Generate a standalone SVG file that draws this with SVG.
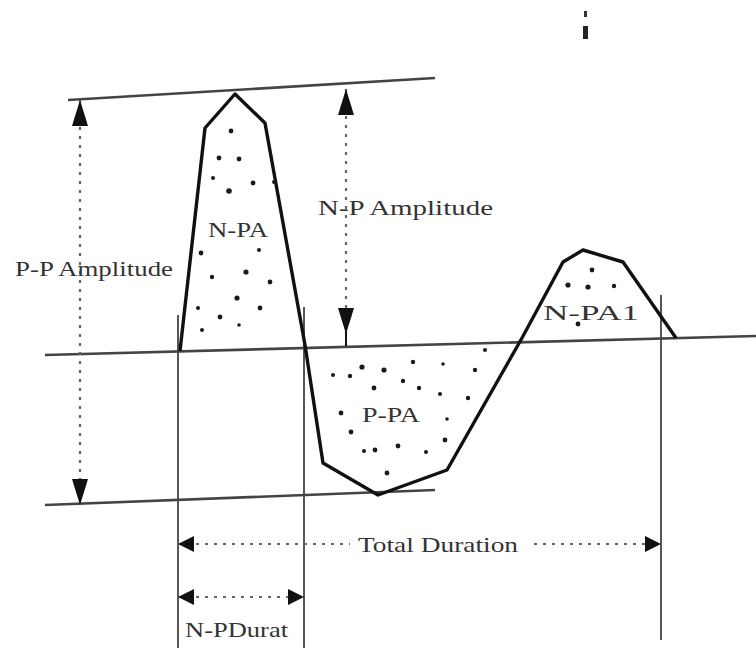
<svg xmlns="http://www.w3.org/2000/svg" width="756" height="657" viewBox="0 0 756 657">
<style>
.ref{stroke:#444;stroke-width:2.6;fill:none}
.vert{stroke:#444;stroke-width:1.8;fill:none}
.wave{stroke:#111;stroke-width:3.4;fill:none;stroke-linejoin:round}
.dim{stroke:#666;stroke-width:2.2;stroke-dasharray:3 6;fill:none}
.lbl{font-family:"Liberation Serif","Times New Roman",serif;font-size:21px;fill:#333}
.dot{fill:#1a1a1a}
</style>
<defs>
<marker id="ahV" markerUnits="userSpaceOnUse" markerWidth="28" markerHeight="16" refX="26" refY="8" orient="auto-start-reverse" viewBox="0 0 28 16">
<path d="M0,0 L26,8 L0,16 z" fill="#111"/>
</marker>
<marker id="ahH" markerUnits="userSpaceOnUse" markerWidth="17" markerHeight="16" refX="16" refY="8" orient="auto-start-reverse" viewBox="0 0 17 16">
<path d="M0,0 L16,8 L0,16 z" fill="#111"/>
</marker>
</defs>
<rect width="756" height="657" fill="#fff"/>
<g id="reference-lines">
<line class="ref" x1="68" y1="100" x2="435" y2="78"/>
<line class="ref" x1="45" y1="355" x2="756" y2="336"/>
<line class="ref" x1="45" y1="505" x2="435" y2="490"/>
<line class="vert" x1="178" y1="315" x2="178" y2="648"/>
<line class="vert" x1="304" y1="307" x2="304" y2="648"/>
<line class="vert" x1="661" y1="295" x2="661" y2="640"/>
</g>
<g id="waveform">
<polyline class="wave" points="180,351 205,128 235,94 265,123 305,345 323,463 378,495 447,470 522,338 563,262 583,250 623,262 676,338"/>
</g>
<g id="npa-region">
<g class="dot">
<circle cx="231" cy="131" r="2.4"/><circle cx="219" cy="158" r="2.4"/><circle cx="239" cy="159" r="2.4"/><circle cx="213" cy="178" r="2"/><circle cx="229" cy="191" r="2.8"/><circle cx="253" cy="183" r="2.4"/><circle cx="274" cy="182" r="2"/><circle cx="201" cy="253" r="2.4"/><circle cx="259" cy="250" r="2"/><circle cx="212" cy="277" r="2.2"/><circle cx="246" cy="272" r="2.6"/><circle cx="270" cy="282" r="2.4"/><circle cx="237" cy="298" r="2.6"/><circle cx="198" cy="308" r="2"/><circle cx="220" cy="317" r="2.4"/><circle cx="260" cy="308" r="2.4"/><circle cx="202" cy="330" r="2"/><circle cx="239" cy="325" r="1.8"/>
</g>
<text class="lbl" x="208" y="237" textLength="60" lengthAdjust="spacingAndGlyphs">N-PA</text>
</g>
<g id="ppa-region">
<g class="dot">
<circle cx="333" cy="375" r="2"/><circle cx="350" cy="376" r="2.2"/><circle cx="362" cy="367" r="2.6"/><circle cx="384" cy="370" r="2.6"/><circle cx="413" cy="362" r="2.2"/><circle cx="443" cy="364" r="1.8"/><circle cx="475" cy="370" r="2.2"/><circle cx="374" cy="388" r="2.4"/><circle cx="403" cy="381" r="2.2"/><circle cx="419" cy="388" r="2.2"/><circle cx="440" cy="394" r="2"/><circle cx="468" cy="398" r="2.2"/><circle cx="341" cy="413" r="2.4"/><circle cx="447" cy="419" r="1.8"/><circle cx="351" cy="432" r="2.4"/><circle cx="375" cy="450" r="2.4"/><circle cx="398" cy="446" r="2.4"/><circle cx="426" cy="452" r="2"/><circle cx="445" cy="440" r="2.4"/><circle cx="387" cy="473" r="2.4"/><circle cx="485" cy="350" r="2"/><circle cx="364" cy="451" r="2"/>
</g>
<text class="lbl" x="362" y="422" textLength="58" lengthAdjust="spacingAndGlyphs">P-PA</text>
</g>
<g id="npa1-region">
<g class="dot">
<circle cx="592" cy="270" r="2.4"/><circle cx="568" cy="285" r="2.6"/><circle cx="588" cy="287" r="2.6"/><circle cx="614" cy="286" r="2.2"/><circle cx="578" cy="324" r="2.4"/>
</g>
<text class="lbl" x="543" y="320" textLength="96" lengthAdjust="spacingAndGlyphs">N-PA1</text>
</g>
<g id="connectors">
<line class="dim" x1="80" y1="100" x2="80" y2="505" marker-start="url(#ahV)" marker-end="url(#ahV)"/>
<line class="dim" x1="346" y1="89" x2="346" y2="334" marker-start="url(#ahV)" marker-end="url(#ahV)"/>
<line x1="346" y1="330" x2="346" y2="346" stroke="#111" stroke-width="2"/>
<line class="dim" x1="178" y1="544" x2="350" y2="544" marker-start="url(#ahH)"/>
<line class="dim" x1="534" y1="544" x2="661" y2="544" marker-end="url(#ahH)"/>
<line class="dim" x1="178" y1="597" x2="304" y2="597" marker-start="url(#ahH)" marker-end="url(#ahH)"/>
</g>
<g id="labels">
<text class="lbl" x="15" y="276" textLength="158" lengthAdjust="spacingAndGlyphs">P-P Amplitude</text>
<text class="lbl" x="318" y="215" textLength="175" lengthAdjust="spacingAndGlyphs">N-P Amplitude</text>
<text class="lbl" x="358" y="552" textLength="160" lengthAdjust="spacingAndGlyphs">Total Duration</text>
<text class="lbl" x="185" y="637" textLength="103" lengthAdjust="spacingAndGlyphs">N-PDurat</text>
</g>
<g id="scan-mark">
<rect x="584" y="11" width="3" height="6" fill="#333"/>
<rect x="583" y="26" width="5" height="13" fill="#222"/>
</g>
</svg>
